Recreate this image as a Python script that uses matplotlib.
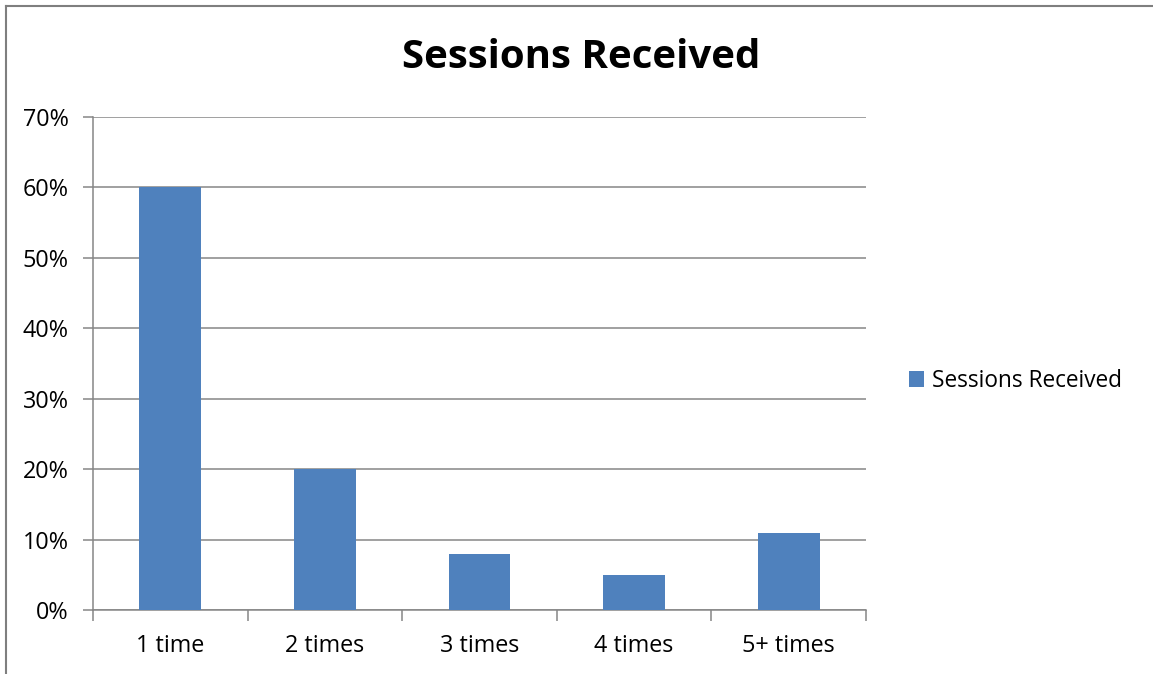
import matplotlib.pyplot as plt
from matplotlib.lines import Line2D
from matplotlib.ticker import PercentFormatter

categories = ["1 time", "2 times", "3 times", "4 times", "5+ times"]
shares = [0.60, 0.20, 0.08, 0.05, 0.11]
series_name = "Sessions Received"

W, H = 1153, 674
plt.rcParams["font.family"] = ["Open Sans", "DejaVu Sans"]
fig = plt.figure(figsize=(W / 100, H / 100), dpi=100)

# plot area in pixel terms
left, right, top, bottom = 93, 866, 117, 610
ax = fig.add_axes([left / W, 1 - bottom / H, (right - left) / W, (bottom - top) / H])

grid_c = "#868686"
bar_c = "#4F81BD"

x = range(len(categories))
ax.bar(x, shares, width=0.40, color=bar_c, zorder=3, label=series_name)

ax.set_xlim(-0.5, len(categories) - 0.5)
ax.set_ylim(0, 0.70)
ax.set_yticks([i / 10 for i in range(8)])
ax.yaxis.set_major_formatter(PercentFormatter(1.0, decimals=0))
ax.grid(axis="y", color=grid_c, lw=1.1, zorder=0)

# category ticks sit on the boundaries between groups
ax.set_xticks([i - 0.5 for i in range(len(categories) + 1)])
ax.set_xticklabels([])
ax.set_xticks(list(x), minor=True)
ax.set_xticklabels(categories, minor=True)
ax.tick_params(axis="x", which="major", length=8, width=1.1, color=grid_c, direction="out")
ax.tick_params(axis="x", which="minor", length=0, pad=17, labelsize=16.8)
ax.tick_params(axis="y", length=7, width=1.1, color=grid_c, direction="out", pad=10.5, labelsize=16.8)

for s in ("top", "right"):
    ax.spines[s].set_visible(False)
for s in ("left", "bottom"):
    ax.spines[s].set_color(grid_c)
    ax.spines[s].set_linewidth(1.1)

fig.text(581 / W, 1 - 57 / H, "Sessions Received", ha="center", va="center",
         fontsize=29, fontweight="bold")

ax.legend(loc="center left", bbox_to_anchor=(898 / W, 1 - 381 / H),
          bbox_transform=fig.transFigure, frameon=False, fontsize=16.3,
          handlelength=0.65, handleheight=0.65, handletextpad=0.35, borderpad=0)

# outer chart border (only top and left edges fall inside the image)
fig.add_artist(Line2D([5.5 / W, 1], [1 - 5.5 / H] * 2, color="#7f7f7f", lw=1.5))
fig.add_artist(Line2D([5.5 / W] * 2, [0, 1 - 5.5 / H], color="#7f7f7f", lw=1.5))

fig.savefig("out.png", dpi=100, facecolor="white")
